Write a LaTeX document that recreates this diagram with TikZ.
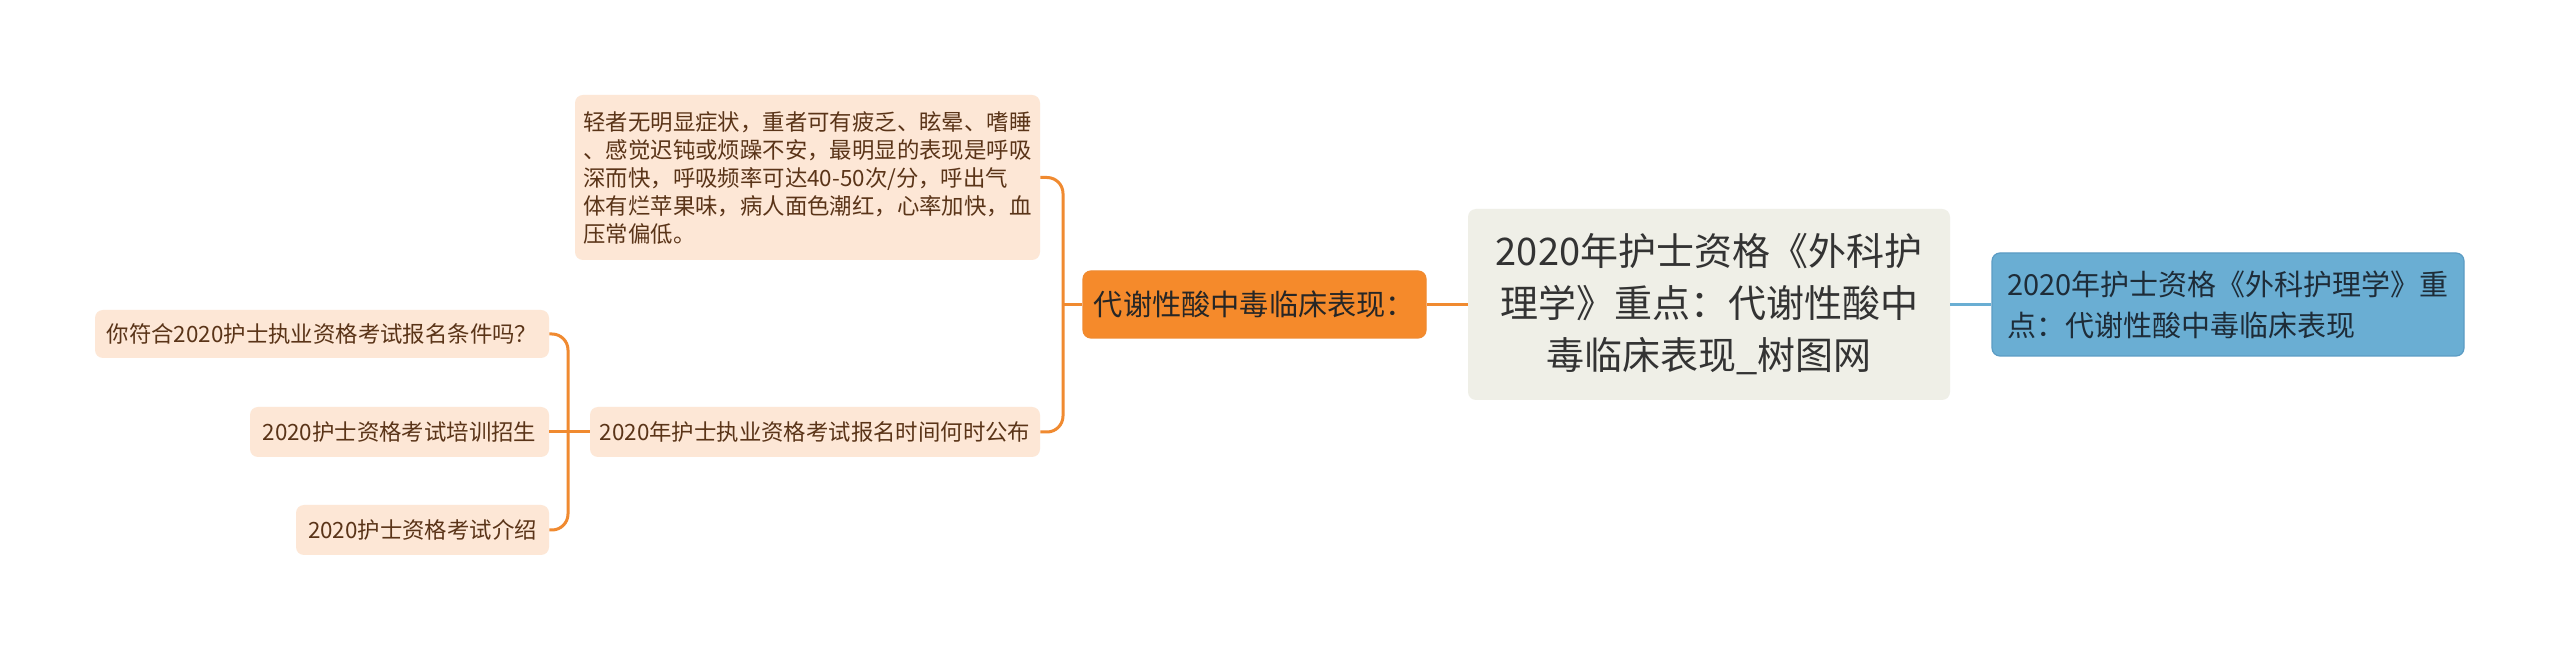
\documentclass[tikz,border=0pt]{standalone}
\usepackage{fontspec}
\setmainfont{Noto Sans CJK SC}
\definecolor{peach}{HTML}{FDE7D6}
\definecolor{brownt}{HTML}{5A3418}
\definecolor{orfill}{HTML}{F58A2B}
\definecolor{orline}{HTML}{F08A30}
\definecolor{rootfill}{HTML}{EFEFE7}
\definecolor{roottext}{HTML}{333333}
\definecolor{bluefill}{HTML}{6AAED3}
\definecolor{blueline}{HTML}{5B9CC4}
\definecolor{bluetext}{HTML}{1E2C38}
\tikzset{
  base/.style={inner sep=0pt, rounded corners=4pt},
  leafbox/.style={base, fill=peach, text=brownt, font=\fontsize{11.2pt}{14pt}\selectfont},
  orbox/.style={base, fill=orfill, draw=orline, line width=0.6pt, text=black!85, font=\fontsize{14.6pt}{17pt}\selectfont},
  rootbox/.style={base, fill=rootfill, text=roottext, align=center, font=\fontsize{19pt}{26pt}\selectfont},
  bluebox/.style={base, fill=bluefill, draw=blueline, line width=0.6pt, text=bluetext, align=left, font=\fontsize{14.5pt}{20.5pt}\selectfont},
  orconn/.style={draw=orline, line width=1.5pt, rounded corners=8pt},
  blconn/.style={draw=bluefill, line width=1.2pt},
}
\begin{document}
\begin{tikzpicture}[x=0.5pt,y=-0.5pt]
\useasboundingbox[fill=white] (0,0) rectangle (2560,651);
\node[rootbox, minimum width=241pt, minimum height=95.5pt] (root) at (1709,304.5)
  {2020年护士资格《外科护\\理学》重点：代谢性酸中\\毒临床表现\_树图网};
\node[bluebox, minimum width=236pt, minimum height=51.5pt] (blue) at (2228,304.5)
  {2020年护士资格《外科护理学》重\\点：代谢性酸中毒临床表现};
\node[orbox, minimum width=171.5pt, minimum height=33.5pt] (on) at (1254.5,304.5)
  {代谢性酸中毒临床表现：};
\node[leafbox, align=left, minimum width=232.5pt, minimum height=82.5pt] (b1) at (807.5,177.5)
  {轻者无明显症状，重者可有疲乏、眩晕、嗜睡\\、感觉迟钝或烦躁不安，最明显的表现是呼吸\\深而快，呼吸频率可达40-50次/分，呼出气\\体有烂苹果味，病人面色潮红，心率加快，血\\压常偏低。};
\node[leafbox, minimum width=225pt, minimum height=25pt] (b2) at (815,432)
  {2020年护士执业资格考试报名时间何时公布};
\node[leafbox, minimum width=227pt, minimum height=24pt] (l1) at (322,334)
  {你符合2020护士执业资格考试报名条件吗？};
\node[leafbox, minimum width=149.5pt, minimum height=25pt] (l2) at (399.5,432)
  {2020护士资格考试培训招生};
\node[leafbox, minimum width=126.5pt, minimum height=25pt] (l3) at (422.5,530)
  {2020护士资格考试介绍};
\coordinate (j1) at (1063,304.5);
\coordinate (j2) at (568,432);
\draw[blconn] (root.east) -- (blue.west);
\draw[orconn] (root.west) -- (on.east);
\draw[orconn] (on.west) -- (j1);
\draw[orconn] (b1.east) -| (j1) |- (b2.east);
\draw[orconn] (b2.west) -- (l2.east);
\draw[orconn] (l1.east) -| (j2) |- (l3.east);
\end{tikzpicture}
\end{document}
